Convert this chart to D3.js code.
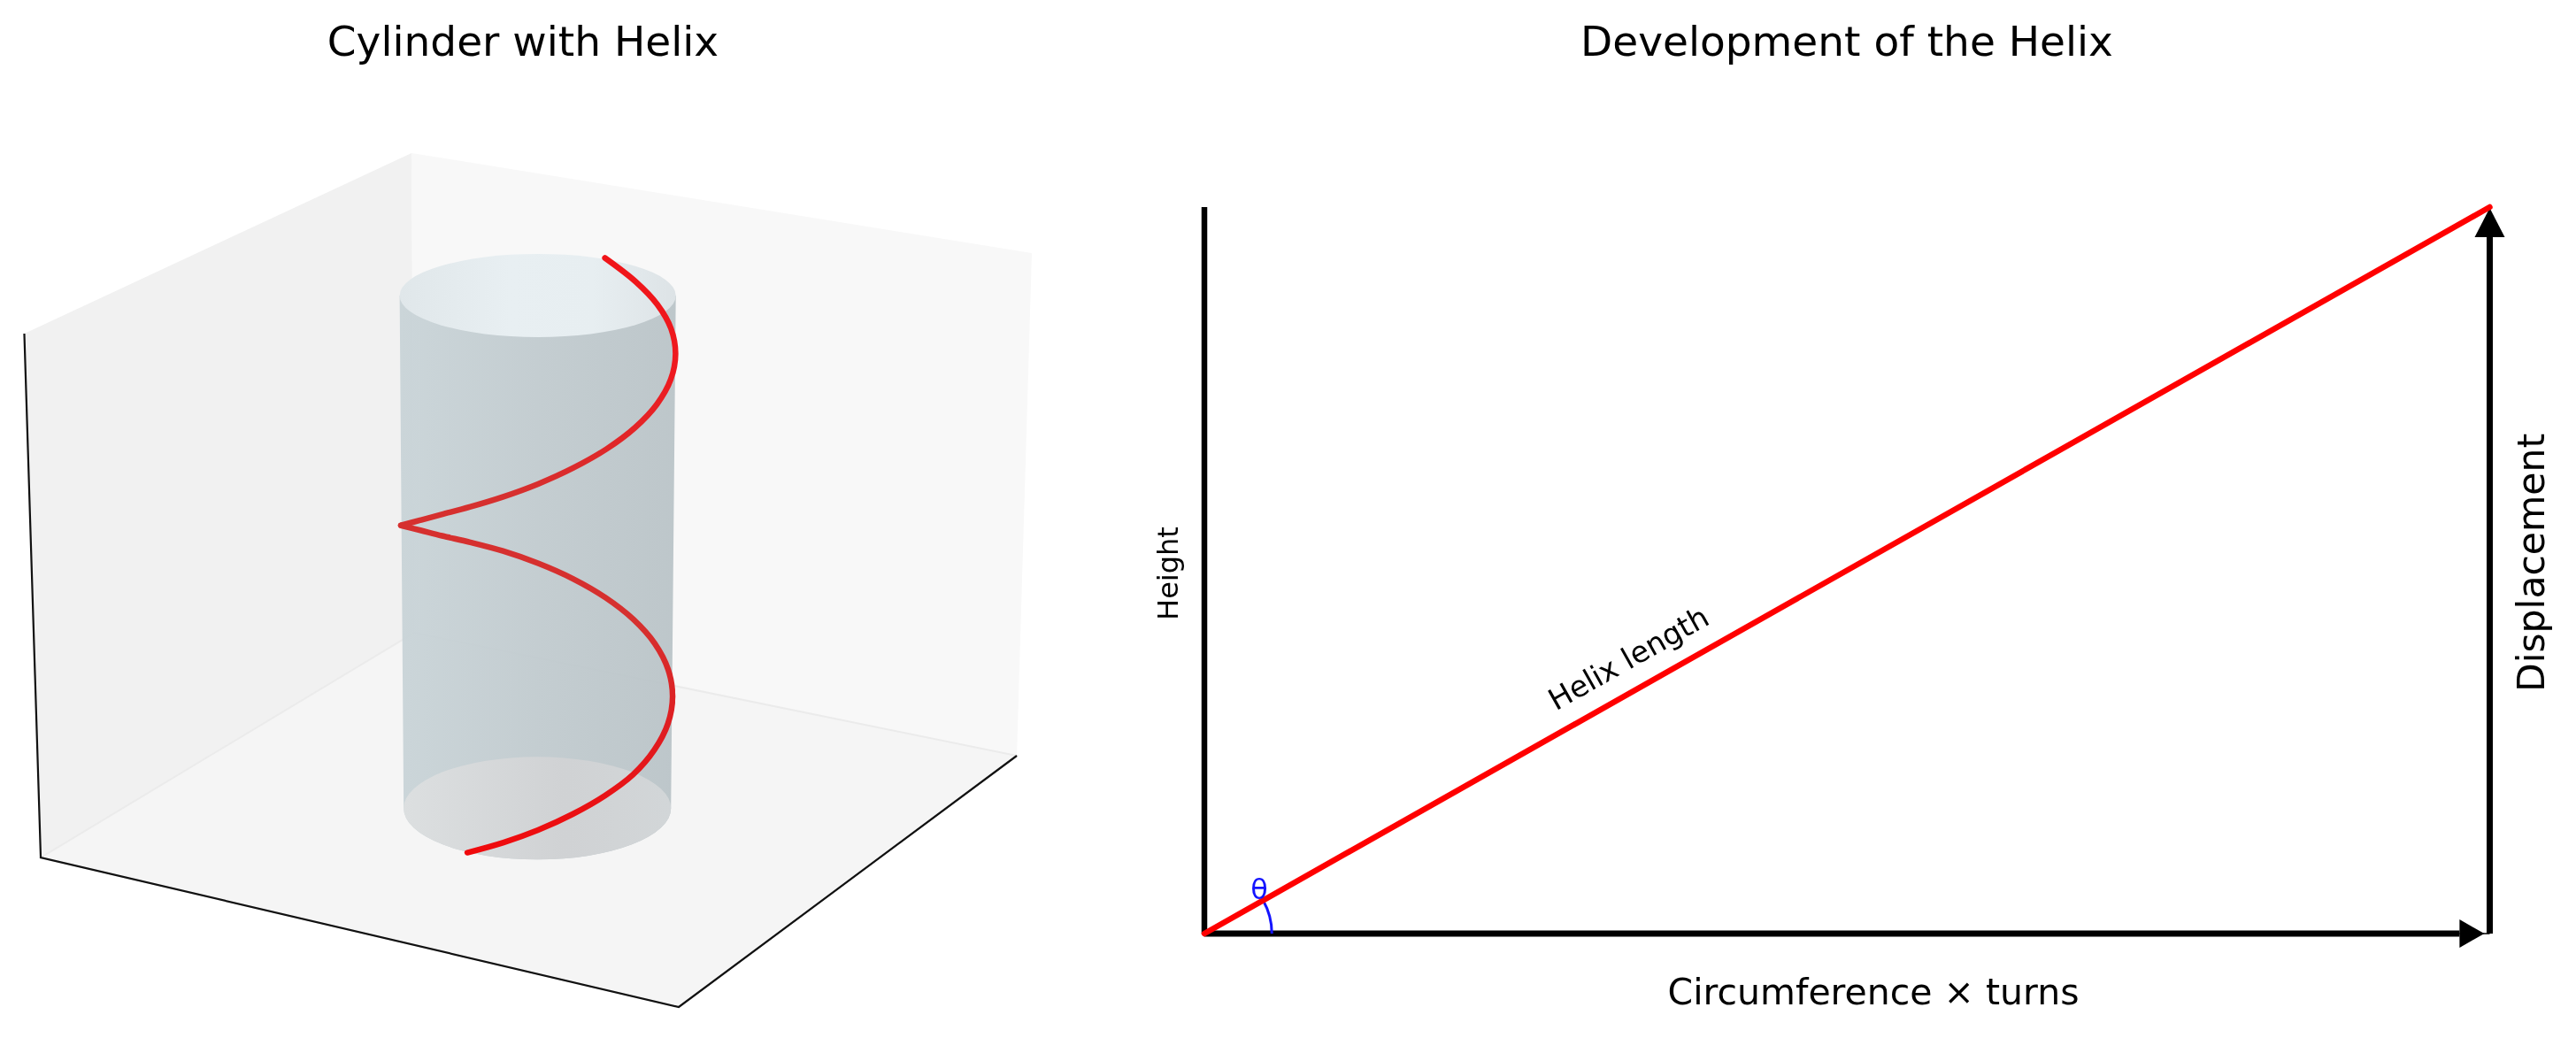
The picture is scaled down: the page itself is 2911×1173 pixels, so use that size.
<!DOCTYPE html>
<html>
<head>
<meta charset="utf-8">
<title>Cylinder with Helix</title>
<script src="https://d3js.org/d3.v7.min.js"></script>
<style>
  html, body { margin: 0; padding: 0; background: #fff; }
  text { font-family: "DejaVu Sans", sans-serif; fill: #000; }
</style>
</head>
<body>
<div id="chart"></div>
<script>
// Values. Left panel is in scene units (0-100 both ways).
const helixUpperTurn = [
  [57.65, 87.72], [60.69, 84.95], [62.84, 82.28], [64.21, 79.43], [64.65, 76.48],
  [64.18, 73.50], [62.81, 70.60], [60.63, 67.85], [57.81, 65.35], [54.52, 63.14],
  [51.01, 61.25], [47.50, 59.73], [44.23, 58.56], [41.44, 57.68], [39.30, 57.00],
  [37.40, 56.40]
];
const helixLowerTurn = [
  [37.40, 56.40], [39.33, 55.83], [41.49, 55.18], [44.28, 54.42],
  [47.53, 53.40], [51.01, 51.97], [54.48, 50.15], [57.71, 47.94], [60.47, 45.40],
  [62.60, 42.56], [63.92, 39.52], [64.36, 36.37], [63.90, 33.20], [62.55, 30.11],
  [60.43, 27.21], [57.67, 24.77], [54.45, 22.59], [51.01, 20.73], [47.58, 19.27],
  [43.99, 18.08]
];
const paneLeft = [[0.04, 78.86], [38.46, 100], [38.72, 43.83], [1.67, 17.51]];
const paneBack = [[38.46, 100], [100, 88.29], [98.51, 29.43], [38.72, 43.83]];
const paneFloor = [[1.67, 17.51], [38.72, 43.83], [98.51, 29.43], [64.97, 0]];
const axisEdges = [[0.04, 78.86], [1.67, 17.51], [64.97, 0], [98.51, 29.43]];
// cx, cy, rx, ry
const rimTop = [50.98, 83.32, 13.70, 4.87];
const rimBottom = [50.94, 23.28, 13.26, 6.01];

// Right panel: fractions of circumference x turns and of height
const helixLength = [[0, 0], [1, 1]];
const heightAxis = [[0, 0], [0, 1]];
const thetaRadius = 0.0525;
const titles = ['Cylinder with Helix', 'Development of the Helix'];

const width = 2911;
const height = 1173;

const svg = d3.select('#chart')
  .append('svg')
  .attr('width', width)
  .attr('height', height)
  .style('display', 'block')
  .style('filter', 'blur(0.6px)');

const defs = svg.append('defs');

function hGradient(id, stops) {
  const g = defs.append('linearGradient').attr('id', id);
  stops.forEach(s => g.append('stop').attr('offset', s[0]).attr('stop-color', s[1]));
  return g;
}
hGradient('bodyFill', [[0, '#c8d3d7'], [0.5, '#c0cace'], [1, '#b9c3c7']]);
hGradient('topFill', [[0, '#e0e7ea'], [0.4, '#e8eff2'], [0.7, '#e7eef1'], [1, '#dde3e6']]);
hGradient('bottomFill', [[0, '#dcdfe0'], [0.6, '#d0d2d4'], [1, '#d2d6d8']]);

const sx = d3.scaleLinear().domain([0, 100]).range([27, 1166]);
const sy = d3.scaleLinear().domain([0, 100]).range([1138, 173]);
const scenePoint = d => [sx(d[0]), sy(d[1])];

const left = svg.append('g').attr('class', 'cylinder-panel');

const panes = [[paneLeft, '#f1f1f1', 'none'], [paneBack, '#f8f8f8', 'none'], [paneFloor, '#f5f5f5', '#ebebeb']];
left.selectAll('polygon')
  .data(panes)
  .enter()
  .append('polygon')
  .attr('points', d => d[0].map(p => scenePoint(p).join(',')).join(' '))
  .style('fill', d => d[1])
  .style('stroke', d => d[2])
  .style('stroke-width', 2);

left.append('path')
  .attr('d', d3.line()(axisEdges.map(scenePoint)))
  .style('fill', 'none')
  .style('stroke', '#111')
  .style('stroke-width', 2.2);

// Cylinder body: top rim sides down to the bottom rim, round the front
const [tcx, tcy, trx, try_] = rimTop;
const [bcx, bcy, brx, bry] = rimBottom;
const rxPx = v => sx(v) - sx(0);
const ryPx = v => sy(0) - sy(v);
const body = d3.path();
body.moveTo(sx(tcx - trx), sy(tcy));
body.lineTo(sx(bcx - brx), sy(bcy));
const bodyPath = body.toString()
  + `A${rxPx(brx)},${ryPx(bry)} 0 0 0 ${sx(bcx + brx)},${sy(bcy)}`
  + `L${sx(tcx + trx)},${sy(tcy)}Z`;
left.append('path')
  .attr('d', bodyPath)
  .style('fill', 'url(#bodyFill)')
  .style('fill-opacity', 0.93);

left.selectAll('ellipse')
  .data([[rimTop, 'url(#topFill)'], [rimBottom, 'url(#bottomFill)']])
  .enter()
  .append('ellipse')
  .attr('cx', d => sx(d[0][0]))
  .attr('cy', d => sy(d[0][1]))
  .attr('rx', d => rxPx(d[0][2]))
  .attr('ry', d => ryPx(d[0][3]))
  .style('fill', d => d[1]);

// helix looks duller where it sits against the middle of the cylinder
const helixGrad = defs.append('linearGradient')
  .attr('id', 'helixStroke')
  .attr('gradientUnits', 'userSpaceOnUse')
  .attr('x1', 0).attr('x2', 0)
  .attr('y1', sy(88)).attr('y2', sy(18));
[[0, '#f01418'], [0.2, '#ee1a20'], [0.4, '#d6302f'], [0.62, '#d6302f'], [0.8, '#e01c20'], [1, '#f00a0c']]
  .forEach(s => helixGrad.append('stop').attr('offset', s[0]).attr('stop-color', s[1]));

const helixLine = d3.line().x(d => sx(d[0])).y(d => sy(d[1])).curve(d3.curveCatmullRom);
left.selectAll('path.helix')
  .data([helixUpperTurn, helixLowerTurn])
  .enter()
  .append('path')
  .attr('class', 'helix')
  .attr('d', helixLine)
  .style('fill', 'none')
  .style('stroke', 'url(#helixStroke)')
  .style('stroke-width', 6.5)
  .style('stroke-linecap', 'round');

left.append('text')
  .attr('x', 591)
  .attr('y', 63)
  .attr('text-anchor', 'middle')
  .style('font-size', '47px')
  .text(titles[0]);

// Development panel
const dx = d3.scaleLinear().domain([0, 1]).range([1361, 2813.5]);
const dy = d3.scaleLinear().domain([0, 1]).range([1055, 234]);
const right = svg.append('g').attr('class', 'development-panel');

right.append('path')
  .attr('d', d3.line().x(d => dx(d[0])).y(d => dy(d[1]))(heightAxis))
  .style('stroke', '#000')
  .style('stroke-width', 6.5);

// arrows: thick shaft up to the head, thin stem from the head on to the end
const arrows = [
  { shaft: [[0, 0], [0.9765, 0]], stem: [[0.9765, 0], [1, 0]], dir: 'h' },
  { shaft: [[1, 0], [1, 0.9585]], stem: [[1, 0.9585], [1, 0.998]], dir: 'v' }
];
arrows.forEach(a => {
  const xy = d3.line().x(d => dx(d[0])).y(d => dy(d[1]));
  right.append('path').attr('d', xy(a.shaft)).style('stroke', '#000').style('stroke-width', 7);
  right.append('path').attr('d', xy(a.stem)).style('stroke', '#000').style('stroke-width', 1.6);
  const end = a.shaft[1];
  const [bx, by] = [dx(end[0]), dy(end[1])];
  const head = a.dir === 'h'
    ? [[bx, by - 16], [bx + 28, by], [bx, by + 16]]
    : [[bx - 17, by], [bx, by - 33], [bx + 17, by]];
  right.append('polygon').attr('points', head.map(p => p.join(',')).join(' ')).style('fill', '#000');
});

const slope = Math.atan2(dy(0) - dy(1), dx(1) - dx(0));
const thetaArc = d3.arc()
  .innerRadius((dx(thetaRadius) - dx(0)))
  .outerRadius((dx(thetaRadius) - dx(0)))
  .startAngle(Math.PI / 2)
  .endAngle(Math.PI / 2 - slope);
right.append('path')
  .attr('transform', `translate(${dx(0)},${dy(0)})`)
  .attr('d', thetaArc())
  .style('fill', 'none')
  .style('stroke', '#1414ff')
  .style('stroke-width', 3);

right.append('path')
  .attr('d', d3.line().x(d => dx(d[0])).y(d => dy(d[1]))(helixLength))
  .style('stroke', '#ff0000')
  .style('stroke-width', 6.5)
  .style('stroke-linecap', 'round');

right.append('text')
  .attr('x', 2087)
  .attr('y', 63)
  .attr('text-anchor', 'middle')
  .style('font-size', '47px')
  .text(titles[1]);

right.append('text')
  .attr('x', 2117)
  .attr('y', 1135)
  .attr('text-anchor', 'middle')
  .style('font-size', '41px')
  .text('Circumference × turns');

right.append('text')
  .attr('transform', 'translate(2875,636) rotate(-90)')
  .attr('text-anchor', 'middle')
  .style('font-size', '42.5px')
  .text('Displacement');

right.append('text')
  .attr('transform', 'translate(1331,648) rotate(-90)')
  .attr('text-anchor', 'middle')
  .style('font-size', '32px')
  .text('Height');

right.append('text')
  .attr('transform', `translate(1846,754) rotate(${-slope * 180 / Math.PI})`)
  .attr('text-anchor', 'middle')
  .style('font-size', '33.5px')
  .text('Helix length');

right.append('text')
  .attr('x', 1423)
  .attr('y', 1016)
  .attr('text-anchor', 'middle')
  .style('font-size', '32px')
  .style('fill', '#1414ff')
  .text('θ');
</script>
</body>
</html>
